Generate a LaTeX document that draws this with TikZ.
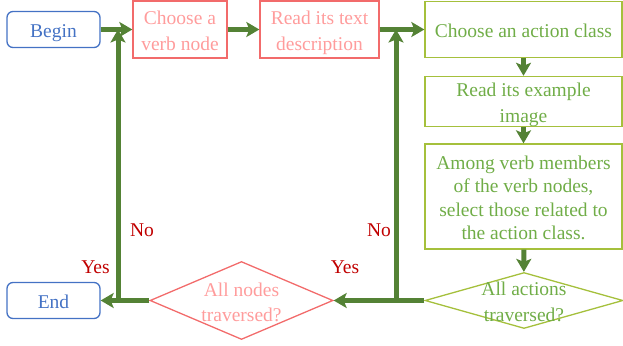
\documentclass[tikz,border=0pt]{standalone}
\usepackage{fontspec}
\setmainfont{Liberation Serif}
\usetikzlibrary{arrows.meta,shapes.geometric}
\definecolor{termblue}{HTML}{4472C4}
\definecolor{verbred}{HTML}{F26B6B}
\definecolor{verbtext}{HTML}{FF9C9C}
\definecolor{actgreen}{HTML}{A5C03C}
\definecolor{acttext}{HTML}{70AD47}
\definecolor{flowgreen}{HTML}{548235}
\definecolor{answerred}{HTML}{C00000}
\newcommand\fs{\rule[-0.216em]{0pt}{1.26em}}

\tikzset{
  terminal/.style={draw=termblue, text=termblue, rounded corners=6pt, line width=1.3pt,
    minimum width=93pt, minimum height=36pt, inner sep=0pt},
  verbbox/.style={draw=verbred, text=verbtext, line width=1.3pt, align=center, inner sep=0pt},
  actbox/.style={draw=actgreen, text=acttext, line width=1.3pt, align=center, inner sep=0pt,
    minimum width=197pt},
  decision/.style={diamond, line width=1.3pt, inner sep=0pt},
  answer/.style={text=answerred, inner sep=0pt},
  flow/.style={draw=flowgreen, line width=5pt, -{Stealth[length=13pt,width=15pt,inset=3pt]}},
}

\begin{document}
\begin{tikzpicture}[x=1pt,y=-1pt,font=\fontsize{19.5}{23.5}\selectfont]
\useasboundingbox (0,0) rectangle (623,345);

\node (begin) [terminal] at (53.5,29.5) {\fs Begin};
\node (verb) [verbbox, minimum width=94pt, minimum height=57pt] at (180,29.5) {\fs Choose a\\verb node\fs};
\node (desc) [verbbox, minimum width=119pt, minimum height=57pt] at (319.5,29.5) {\fs Read its text\\description\fs};
\node (action) [actbox, minimum height=56pt] at (523.5,29.5) {\fs Choose an action class};
\node (image) [actbox, minimum height=47pt] at (523.5,101.5) {\fs Read its example\\image\fs};
\node (select) [actbox, minimum height=105pt] at (523.5,196.5) {\fs Among verb members\\of the verb nodes,\\select those related to\\the action class.\fs};

\node (allact) [decision, draw=actgreen, minimum width=198pt, minimum height=56pt] at (524,300.5) {};
\node (allacttext) [text=acttext, align=center, inner sep=0pt] at (524,300.5) {\fs All actions\\traversed?\fs};
\node (allnodes) [decision, draw=verbred, minimum width=183pt, minimum height=78pt] at (241.5,300.5) {};
\node (allnodestext) [text=verbtext, align=center, inner sep=0pt] at (241.5,301) {\fs All nodes\\traversed?\fs};
\node (end) [terminal] at (53.5,300.5) {\fs End};

\coordinate (backR) at (396,300.5);
\coordinate (backL) at (118,300.5);

\draw[flow] (begin) -- (verb);
\draw[flow] (verb) -- (desc);
\draw[flow] (desc) -- (action);
\draw[flow] (action) -- (image);
\draw[flow] (image) -- (select);
\draw[flow] (select) -- (allact);
\draw[flow] (allact) -- (allnodes);
\draw[flow] (allnodes) -- (end);
\draw[flow] (backR) -- (backR |- action.west);
\draw[flow] (backL) -- (backL |- verb.west);

\node (noL) [answer] at (142,230) {No};
\node (yesL) [answer] at (95.5,267) {Yes};
\node (noR) [answer] at (379,230) {No};
\node (yesR) [answer] at (345,267) {Yes};
\end{tikzpicture}
\end{document}
